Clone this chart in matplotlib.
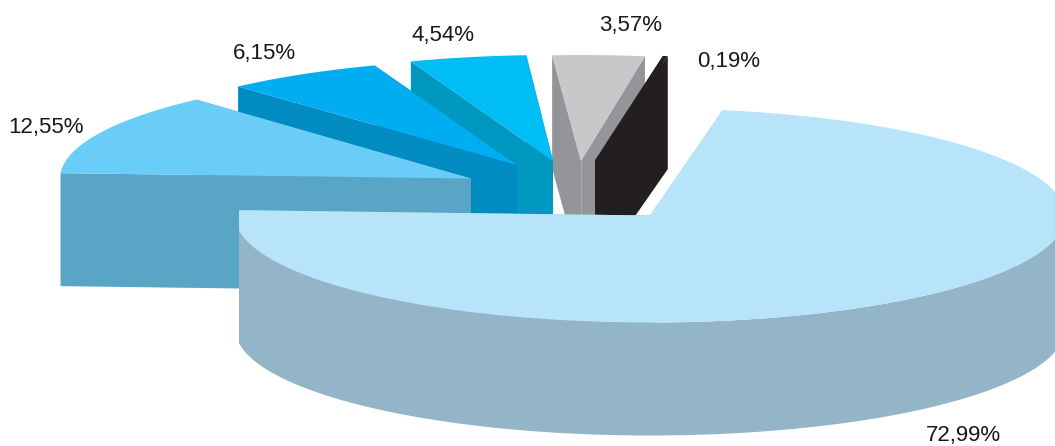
import numpy as np
import matplotlib
matplotlib.use("Agg")
import matplotlib.pyplot as plt
from matplotlib.patches import Rectangle

values = [72.99, 12.55, 6.15, 4.54, 3.57, 0.19]
labels = ["72,99%", "12,55%", "6,15%", "4,54%", "3,57%", "0,19%"]
top_colors = ["#B8E4FA", "#6ACDF8", "#00ADF1", "#00BDF5", "#C7C8CA", "#231F20"]
side_colors = ["#94B4C7", "#58A5C6", "#008BC1", "#0097C1", "#939598", "#231F20"]

# Layout of the exploded 3D pie (pixel-like axes)
apex_x = [650, 471, 517, 553, 581, 595]
apex_y = [215.5, 178.5, 165, 161, 161, 160.5]
radius_x = [415, 411, 415, 415, 415, 415]
radius_y = [107, 106, 106, 106, 106, 106]
rotation = [0, 0, -0.3, -0.25, -0.55, 0]
depth = 113
start_angle = 10.1
label_x = [926, 8, 233, 411, 599, 697]
label_y = [436, 128, 54, 36, 26, 61]
draw_order = [4, 5, 3, 2, 1, 0]

plt.rcParams["font.family"] = ["Liberation Sans", "DejaVu Sans"]
fig = plt.figure(figsize=(10.55, 4.46), dpi=100)
ax = fig.add_axes([0, 0, 1, 1])
ax.set_xlim(0, 1055)
ax.set_ylim(446, 0)
ax.axis("off")

spans = np.array(values) / sum(values) * 360
starts = start_angle + np.concatenate(([0], np.cumsum(spans)[:-1]))


def arc(cx, cy, rx, ry, a0, a1):
    t = np.radians(np.linspace(a0, a1, max(int(abs(a1 - a0) * 2), 2) + 1))
    return cx + rx * np.sin(t), cy - ry * np.cos(t)


for i in draw_order:
    cx, cy, rx, ry = apex_x[i], apex_y[i], radius_x[i], radius_y[i]
    a0, a1 = starts[i] + rotation[i], starts[i] + spans[i] + rotation[i]
    ax_, ay_ = arc(cx, cy, rx, ry, a0, a1)
    patches = []
    # radial faces
    for ex, ey in ((ax_[0], ay_[0]), (ax_[-1], ay_[-1])):
        patches += ax.fill([cx, ex, ex, cx], [cy, ey, ey + depth, cy + depth],
                           color=side_colors[i], lw=0)
    # outer wall (front half only)
    lo, hi = max(a0, 90), min(a1, 270)
    if hi > lo:
        wx, wy = arc(cx, cy, rx, ry, lo, hi)
        patches += ax.fill(np.r_[wx, wx[::-1]], np.r_[wy, wy[::-1] + depth],
                           color=side_colors[i], lw=0)
    # top face
    patches += ax.fill(np.r_[cx, ax_], np.r_[cy, ay_], color=top_colors[i], lw=0)
    if i == 4:
        ax.plot([cx, cx], [cy, cy + depth], color="#ABACAF", lw=0.7, zorder=1)
    if i == 0:
        clip = Rectangle((239, 0), 816, 446, transform=ax.transData)
        for p in patches:
            p.set_clip_path(clip)

for t, x, y in zip(labels, label_x, label_y):
    ax.text(x, y, t, fontsize=16, color="#1A1718", ha="left", va="center")

fig.savefig("out.png", dpi=100)
